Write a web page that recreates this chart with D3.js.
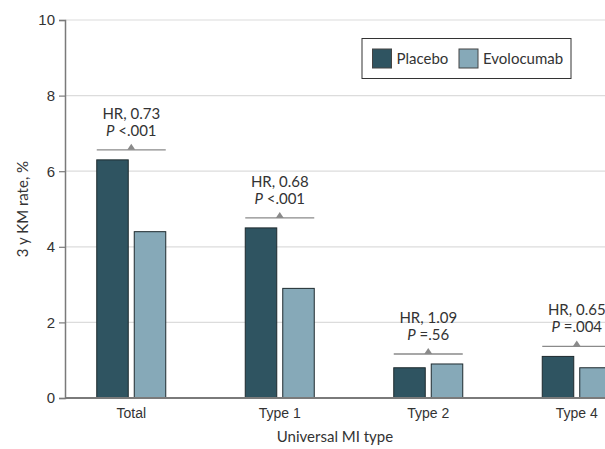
<!DOCTYPE html>
<html>
<head>
<meta charset="utf-8">
<script src="https://cdn.jsdelivr.net/npm/d3@7"></script>
<style>
  body { margin: 0; background: #fff; }
  svg { display: block; font-family: Lato, sans-serif; }
</style>
</head>
<body>
<div id="chart"></div>
<script>
// data
const categories = ['Total', 'Type 1', 'Type 2', 'Type 4']
const seriesNames = ['Placebo', 'Evolocumab']
const placebo = [6.3, 4.5, 0.8, 1.1]
const evolocumab = [4.4, 2.9, 0.9, 0.8]
const hrLabels = ['HR, 0.73', 'HR, 0.68', 'HR, 1.09', 'HR, 0.65']
const pLabels = ['<.001', '<.001', '=.56', '=.004']
const yTicks = [0, 2, 4, 6, 8, 10]

const colors = { Placebo: '#2f5461', Evolocumab: '#86a9b8' }

const width = 605
const height = 449
const margin = { top: 20, right: 0, bottom: 51, left: 65 }

const svg = d3.select('#chart')
  .append('svg')
  .attr('width', width)
  .attr('height', height)

const y = d3.scaleLinear()
  .domain([0, 10])
  .range([height - margin.bottom, margin.top])

// plot runs past the right edge, last group is clipped
const x = d3.scaleBand()
  .domain(categories)
  .range([57, 651])

const xInner = d3.scaleBand()
  .domain(seriesNames)
  .range([-34.5, 34.5])
  .paddingInner(0.16)

// gridlines
svg.append('g')
  .selectAll('line')
  .data(yTicks.filter(d => d > 0))
  .join('line')
  .attr('x1', margin.left)
  .attr('x2', width)
  .attr('y1', d => y(d))
  .attr('y2', d => y(d))
  .attr('stroke', '#dcdcdc')
  .attr('stroke-width', 1.2)

// bars
const rows = categories.map((c, i) => ({
  category: c,
  values: [
    { key: 'Placebo', value: placebo[i] },
    { key: 'Evolocumab', value: evolocumab[i] }
  ],
  hr: hrLabels[i],
  p: pLabels[i]
}))

const groups = svg.append('g')
  .selectAll('g')
  .data(rows)
  .join('g')
  .attr('transform', d => `translate(${x(d.category) + x.bandwidth() / 2},0)`)

groups.selectAll('rect')
  .data(d => d.values)
  .join('rect')
  .attr('x', d => xInner(d.key))
  .attr('y', d => y(d.value))
  .attr('width', xInner.bandwidth())
  .attr('height', d => y(0) - y(d.value))
  .attr('fill', d => colors[d.key])
  .attr('stroke', '#1e2a2e')
  .attr('stroke-width', 1)

// HR / P annotations
const bracketY = d => y(d3.max(d.values, v => v.value)) - 10

groups.append('line')
  .attr('x1', xInner.range()[0])
  .attr('x2', xInner.range()[1])
  .attr('y1', bracketY)
  .attr('y2', bracketY)
  .attr('stroke', '#8a8a8a')
  .attr('stroke-width', 1.3)

groups.append('path')
  .attr('d', d => `M-4,${bracketY(d)}L0,${bracketY(d) - 6}L4,${bracketY(d)}Z`)
  .attr('fill', '#8a8a8a')

groups.append('text')
  .attr('y', d => bracketY(d) - 31)
  .attr('text-anchor', 'middle')
  .attr('fill', '#333')
  .style('font-size', '15px')
  .text(d => d.hr)

const pText = groups.append('text')
  .attr('y', d => bracketY(d) - 14)
  .attr('text-anchor', 'middle')
  .attr('fill', '#333')
  .style('font-size', '15px')

pText.append('tspan')
  .style('font-style', 'italic')
  .text('P')
pText.append('tspan')
  .text(d => ' ' + d.p)

// axes
const yAxis = svg.append('g')
  .attr('transform', `translate(${margin.left},0)`)
  .call(d3.axisLeft(y).tickValues(yTicks).tickSize(6).tickPadding(4))

yAxis.select('.domain').attr('stroke', '#7a7a7a').attr('stroke-width', 1.5)
yAxis.selectAll('.tick line').attr('stroke', '#7a7a7a').attr('stroke-width', 1.2)
yAxis.selectAll('.tick text').attr('fill', '#333').style('font-size', '15px')

const xAxis = svg.append('g')
  .attr('transform', `translate(0,${y(0)})`)
  .call(d3.axisBottom(x).tickSize(0).tickPadding(10))

xAxis.select('.domain').remove()
xAxis.selectAll('.tick text').attr('fill', '#333').style('font-size', '14px')

svg.append('line')
  .attr('x1', margin.left)
  .attr('x2', width)
  .attr('y1', y(0))
  .attr('y2', y(0))
  .attr('stroke', '#7a7a7a')
  .attr('stroke-width', 1.8)

// axis titles
svg.append('text')
  .attr('x', (margin.left + width) / 2)
  .attr('y', 442)
  .attr('text-anchor', 'middle')
  .attr('fill', '#333')
  .style('font-size', '15px')
  .text('Universal MI type')

svg.append('text')
  .attr('transform', 'rotate(-90)')
  .attr('x', -(y(0) + y(10)) / 2)
  .attr('y', 28)
  .attr('text-anchor', 'middle')
  .attr('fill', '#333')
  .style('font-size', '15px')
  .text('3 y KM rate, %')

// legend
const legend = svg.append('g')
  .attr('transform', 'translate(362,38.5)')

legend.append('rect')
  .attr('width', 209)
  .attr('height', 40)
  .attr('fill', '#fff')
  .attr('stroke', '#333')
  .attr('stroke-width', 1)

const legendX = [10.5, 97]
seriesNames.forEach((name, i) => {
  const item = legend.append('g')
    .attr('transform', `translate(${legendX[i]},10.5)`)
  item.append('rect')
    .attr('width', 19)
    .attr('height', 19)
    .attr('fill', colors[name])
    .attr('stroke', '#444')
  item.append('text')
    .attr('x', 24)
    .attr('y', 15)
    .attr('fill', '#333')
    .style('font-size', '15px')
    .text(name)
})
</script>
</body>
</html>
